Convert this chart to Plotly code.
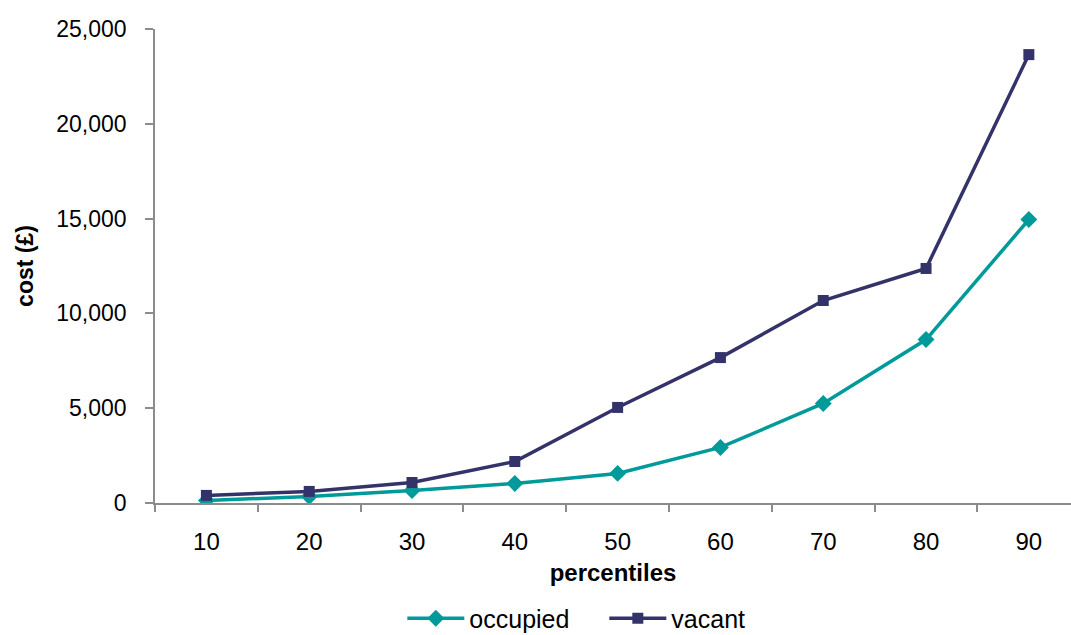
import plotly.graph_objects as go

categories = ["10", "20", "30", "40", "50", "60", "70", "80", "90"]
occupied = [130, 340, 660, 1030, 1560, 2930, 5250, 8620, 14950]
vacant = [400, 610, 1080, 2190, 5040, 7670, 10680, 12370, 23650]
y_ticks = [0, 5000, 10000, 15000, 20000, 25000]
y_tick_labels = ["0", "5,000", "10,000", "15,000", "20,000", "25,000"]

FONT = "Liberation Sans, Arial, sans-serif"
AXIS = "#8c8c8c"

fig = go.Figure()
fig.add_trace(go.Scatter(
    x=categories, y=occupied, name="occupied", mode="lines+markers",
    line=dict(color="#009a9a", width=3.5),
    marker=dict(symbol="diamond", size=13, color="#009a9a"),
))
fig.add_trace(go.Scatter(
    x=categories, y=vacant, name="vacant", mode="lines+markers",
    line=dict(color="#33336a", width=3.5),
    marker=dict(symbol="square", size=11, color="#33336a"),
))

fig.update_layout(
    width=1071, height=635,
    margin=dict(l=155, r=0, t=29, b=132, autoexpand=False),
    paper_bgcolor="white", plot_bgcolor="white",
    font=dict(family=FONT, size=23, color="#000000"),
    showlegend=True,
    legend=dict(orientation="h", x=0.27, xanchor="left",
                yref="container", y=0.026, yanchor="middle",
                font=dict(size=25), itemwidth=57, traceorder="normal",
                entrywidth=130, entrywidthmode="pixels"),
)
fig.update_xaxes(
    type="category", range=[-0.5, 8.41],
    showline=True, linecolor=AXIS, linewidth=1.5,
    ticks="outside", ticklen=7, tickcolor=AXIS, tickwidth=1.5,
    tickson="boundaries", showgrid=False, zeroline=False,
    ticklabelstandoff=16, tickfont=dict(size=24),
    title=dict(text="<b>percentiles</b>", font=dict(size=24), standoff=11),
)
fig.update_yaxes(
    range=[0, 25000], tickvals=y_ticks, ticktext=y_tick_labels,
    showline=True, linecolor=AXIS, linewidth=1.5,
    ticks="outside", ticklen=8, tickcolor=AXIS, tickwidth=1.5,
    showgrid=False, zeroline=False, ticklabelstandoff=14,
    tickfont=dict(size=23),
    title=dict(text="<b>cost (£)</b>", font=dict(size=23), standoff=16),
)

fig.write_html("out.html")
